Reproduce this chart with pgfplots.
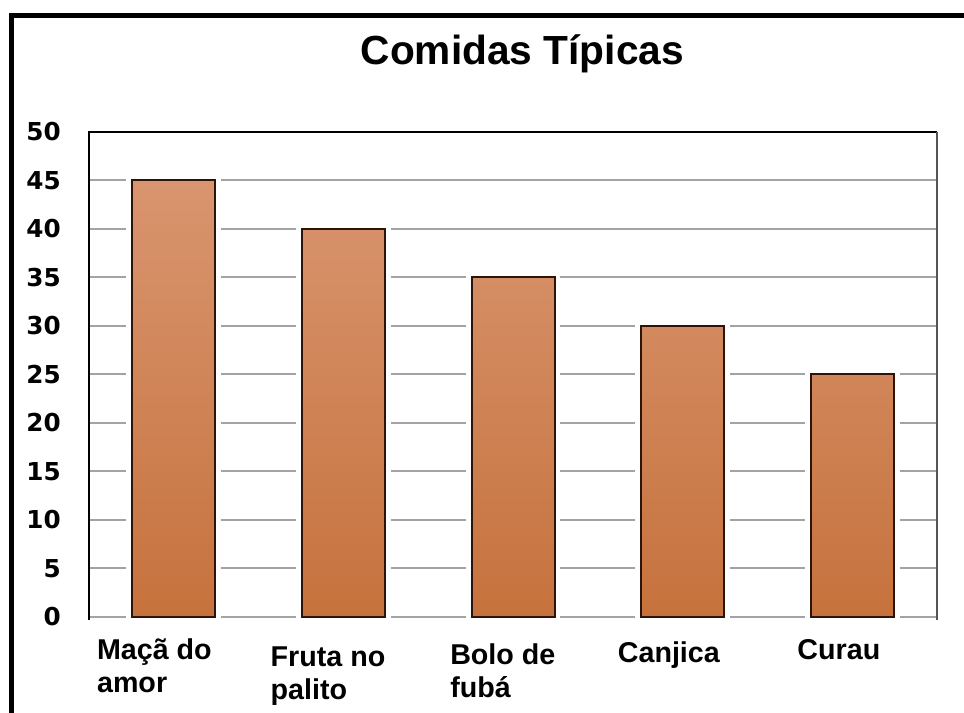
\documentclass[border=0pt]{standalone}
\usepackage{pgfplots}
\pgfplotsset{compat=1.18}
\usepackage{fontspec}
\setmainfont{Liberation Sans}
\newfontfamily\tickfont{DejaVu Sans}
\definecolor{bartop}{HTML}{D9956F}
\definecolor{barbot}{HTML}{C6723D}
\definecolor{barline}{HTML}{2E1408}
\definecolor{gridgray}{HTML}{A3A3A3}
\definecolor{rightline}{HTML}{555555}
\newcommand\lab[3]{\hspace*{#1}\raisebox{-#2}{\begin{tabular}[t]{@{}l@{}}#3\end{tabular}}}
\newcommand\xlab[1]{\ifcase#1 \lab{-57.75pt}{32.25pt}{Maçã do\\amor}\or \lab{-54.75pt}{37.5pt}{Fruta no\\palito}\or \lab{-47.25pt}{36pt}{Bolo de\\fubá}\or \lab{-48.75pt}{34.5pt}{Canjica}\or \lab{-41.25pt}{32.25pt}{Curau}\fi}
\begin{document}
\begin{tikzpicture}
\useasboundingbox (0,0) rectangle (723pt,534.75pt);
\clip (0,0) rectangle (723pt,534.75pt);
\draw[line width=3.9pt] (8.6pt,-10pt) |- (740pt,523.1pt);
\begin{axis}[
  at={(66.75pt,72pt)}, anchor=south west,
  scale only axis, width=636pt, height=363.75pt,
  xmin=-0.5, xmax=4.5, ymin=0, ymax=50,
  ytick={0,5,...,50}, xtick={0,1,2,3,4},
  ymajorgrids, grid style={draw=gridgray, line width=1.5pt},
  axis line style={draw=none}, major tick length=0pt,
  clip=false,
  /pgf/number format/assume math mode=true,
  yticklabel style={font=\tickfont\bfseries\fontsize{18.5}{20}\selectfont, anchor=east, inner sep=0pt, xshift=-21pt},
  xticklabel style={font=\bfseries\fontsize{21.5}{24.5}\selectfont, anchor=base west, inner sep=0pt},
  xticklabel={\xlab{\ticknum}},
  title={Comidas Típicas},
  title style={font=\bfseries\fontsize{30.5}{34}\selectfont, at={(0.511,1.123)}, anchor=base, inner sep=0pt},
]
\addplot[ybar, bar width=69pt, bar shift=0pt, fill=white, draw=white, line width=2pt]
  coordinates {(0,45) (1,40) (2,35) (3,30) (4,25)};
\addplot[ybar, bar width=62.25pt, bar shift=0pt, draw=barline, line width=1.5pt, top color=bartop, bottom color=barbot]
  coordinates {(0,45) (1,40) (2,35) (3,30) (4,25)};
\draw[black, line width=1.6pt] (rel axis cs:0,-0.006) -- (rel axis cs:0,1) -- (rel axis cs:1,1);
\draw[rightline, line width=1.6pt] (rel axis cs:1,1) -- (rel axis cs:1,-0.006);
\end{axis}
\end{tikzpicture}
\end{document}
